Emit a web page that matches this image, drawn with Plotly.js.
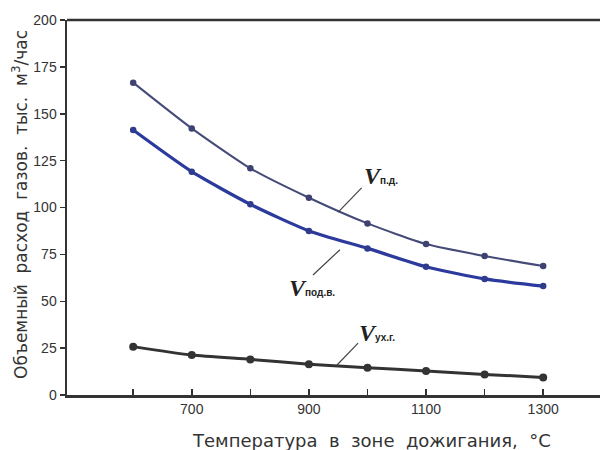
<!DOCTYPE html>
<html><head><meta charset="utf-8">
<script src="https://cdn.plot.ly/plotly-3.0.1.min.js"></script>
<style>html,body{margin:0;padding:0;background:#fff}#c{width:603px;height:450px}</style>
</head><body><div id="c"></div>
<script>
const temps = [600, 700, 800, 900, 1000, 1100, 1200, 1300];
const vPD   = [166.6, 142.2, 120.9, 105.2, 91.5, 80.5, 74.1, 68.8];
const vPodV = [141.3, 119.1, 101.7, 87.5, 78.2, 68.4, 61.9, 58.1];
const vUxG  = [25.8, 21.3, 19.0, 16.4, 14.6, 12.8, 11.0, 9.4];
const yTicks = [0, 25, 50, 75, 100, 125, 150, 175, 200];
const xTickVals = [700, 900, 1100, 1300];
const xMinorTicks = [600, 800, 1000, 1200];
const xTitle = 'Температура  в  зоне  дожигания,  °C';
const yTitle = 'Объемный  расход  газов.  тыс.  м<sup>3</sup>/час';
const labels = [
  {name:'п.д.',   x:990, y:117, lx:[950, 990], ly:[97.5, 110.5]},
  {name:'под.в.', x:862, y:57,  lx:[953, 907], ly:[77.5, 64]},
  {name:'ух.г.',  x:982, y:33,  lx:[948, 984], ly:[16, 27.7]}
];

const traces = [
  {x:temps, y:vPD, mode:'lines+markers', line:{color:'#454a78', width:2, shape:'spline', smoothing:0.6}, marker:{size:6.5, color:'#3e4270'}},
  {x:temps, y:vPodV, mode:'lines+markers', line:{color:'#2b3a9c', width:3.2, shape:'spline', smoothing:0.6}, marker:{size:6.5, color:'#2f3c8c'}},
  {x:temps, y:vUxG, mode:'lines+markers', line:{color:'#333333', width:3, shape:'spline', smoothing:0.6}, marker:{size:8, color:'#333333'}}
];

const shapes = labels.map(l => ({type:'line', xref:'x', yref:'y', x0:l.lx[0], x1:l.lx[1], y0:l.ly[0], y1:l.ly[1], line:{color:'#444', width:1.2}}));
shapes.push({type:'line', xref:'paper', yref:'paper', x0:0, x1:1, y0:1, y1:1, line:{color:'#333', width:2.5}});

const annotations = labels.map(l => ({
  x:l.x, y:l.y, xref:'x', yref:'y', showarrow:false, xanchor:'left', yanchor:'middle',
  text:"<span style='font-family:Liberation Serif;font-size:24px'><b><i>V</i></b></span><span style='font-size:10px'><b>" + l.name + "</b></span>",
  font:{family:'Liberation Sans', size:10, color:'#222'}
}));
annotations.push({xref:'paper', yref:'paper', x:0.572, y:-0.12, xanchor:'center', yanchor:'middle', showarrow:false,
  text:xTitle, font:{family:'DejaVu Sans', size:18, color:'#333'}});
annotations.push({xref:'paper', yref:'paper', x:-0.088, y:0.507, xanchor:'center', yanchor:'middle', showarrow:false, textangle:-90,
  text:yTitle, font:{family:'DejaVu Sans', size:17, color:'#333'}});

const layout = {
  width:603, height:450,
  margin:{l:67, r:3, t:20, b:55},
  paper_bgcolor:'#fff', plot_bgcolor:'#fff',
  showlegend:false,
  font:{family:'Liberation Sans Narrow, Liberation Sans, Arial', color:'#333'},
  xaxis:{
    range:[487, 1397], tickmode:'array', tickvals:xTickVals,
    ticks:'inside', ticklen:6, tickwidth:1.5, tickcolor:'#333',
    minor:{tickmode:'array', tickvals:xMinorTicks, ticks:'inside', ticklen:6, tickwidth:1.5, tickcolor:'#333', showgrid:false},
    showline:true, linecolor:'#333', linewidth:2.5, showgrid:false, zeroline:false,
    tickfont:{size:14, color:'#333'}
  },
  yaxis:{
    range:[0, 200], tickvals:yTicks,
    ticks:'outside', ticklen:5, tickwidth:1.5, tickcolor:'#333',
    showline:true, linecolor:'#333', linewidth:2.5, showgrid:false, zeroline:false,
    tickfont:{size:14, color:'#333'}
  },
  shapes:shapes, annotations:annotations
};
Plotly.newPlot('c', traces, layout, {displayModeBar:false, staticPlot:true});
</script></body></html>
